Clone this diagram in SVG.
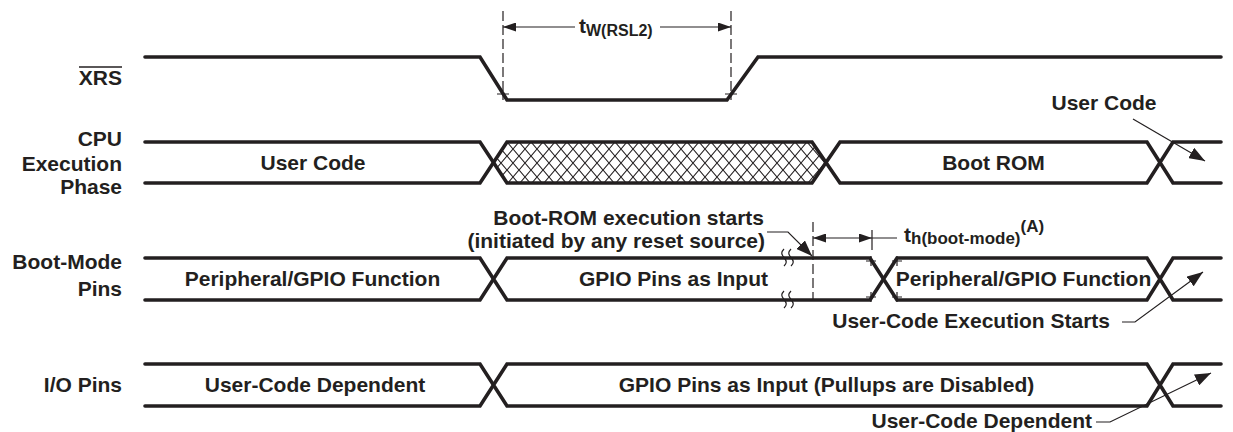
<svg xmlns="http://www.w3.org/2000/svg" width="1233" height="432" viewBox="0 0 1233 432">
<defs>
<style>
.t{font-family:"Liberation Sans",Arial,Helvetica,sans-serif;font-weight:bold;font-size:21px;fill:#231f20}
.m{text-anchor:middle}
.e{text-anchor:end}
.sig{fill:none;stroke:#231f20;stroke-width:3.6;stroke-linejoin:miter;stroke-linecap:round}
.bus{fill:#fff;stroke:#231f20;stroke-width:3.6;stroke-linejoin:miter}
.thin{fill:none;stroke:#231f20;stroke-width:1.2}
.dash{fill:none;stroke:#231f20;stroke-width:1.2;stroke-dasharray:10 4}
.lead{fill:none;stroke:#231f20;stroke-width:1.2;marker-end:url(#ah)}
</style>
<pattern id="hatch" patternUnits="userSpaceOnUse" x="507" y="142" width="12" height="14">
<path d="M-1,-1.17 L13,15.17 M13,-1.17 L-1,15.17" stroke="#231f20" stroke-width="1.1" fill="none"/>
</pattern>
<marker id="ah" viewBox="0 0 16 12" refX="16" refY="6" markerWidth="16" markerHeight="12" markerUnits="userSpaceOnUse" orient="auto-start-reverse">
<path d="M0,0 L16,6 L0,12 z" fill="#231f20"/>
</marker>
<marker id="dh" viewBox="0 0 13 9" refX="13" refY="4.5" markerWidth="13" markerHeight="9" markerUnits="userSpaceOnUse" orient="auto-start-reverse">
<path d="M0,0 L13,4.5 L0,9 z" fill="#231f20"/>
</marker>
</defs>
<rect width="1233" height="432" fill="#fff"/>

<g id="labels">
<text class="t e" x="122" y="85">XRS</text>
<line x1="79" y1="67" x2="122" y2="67" stroke="#231f20" stroke-width="1.5"/>
<text class="t e" x="122" y="146">CPU</text>
<text class="t e" x="122" y="171">Execution</text>
<text class="t e" x="122" y="194">Phase</text>
<text class="t e" x="122" y="269">Boot-Mode</text>
<text class="t e" x="122" y="296">Pins</text>
<text class="t e" x="122" y="392">I/O Pins</text>
</g>

<g id="xrs">
<path class="sig" d="M145,57 H480 L507,100 H727 L758,57 H1221"/>
</g>

<g id="cpu">
<path class="sig" d="M145,142 H480 L493.5,162.5 L480,183 H145"/>
<polygon class="bus" points="493.5,162.5 507,142 812,142 826,162.5 812,183 507,183" style="fill:url(#hatch)"/>
<polygon class="bus" points="826,162.5 840,142 1147,142 1160,162.5 1147,183 840,183"/>
<path class="sig" d="M1221,142 H1173 L1160,162.5 L1173,183 H1221"/>
<text class="t m" x="313" y="170">User Code</text>
<text class="t m" x="993.5" y="170">Boot ROM</text>
</g>

<g id="bootmode">
<path class="sig" d="M145,258 H480 L493.5,279 L480,300 H145"/>
<polygon class="bus" points="493.5,279 507,258 870,258 883.5,279 870,300 507,300"/>
<polygon class="bus" points="883.5,279 897,258 1147,258 1160,279 1147,300 897,300"/>
<path class="sig" d="M1221,258 H1173 L1160,279 L1173,300 H1221"/>
<path class="thin" d="M784,249 c-3,3 -3,5 0,8.5 c3,3.5 3,5.5 0,8.5 M791,249 c-3,3 -3,5 0,8.5 c3,3.5 3,5.5 0,8.5"/>
<path class="thin" d="M784,291 c-3,3 -3,5 0,8.5 c3,3.5 3,5.5 0,8.5 M791,291 c-3,3 -3,5 0,8.5 c3,3.5 3,5.5 0,8.5"/>
<path class="thin" d="M866,261 h10 M871,256 v10 M892,261 h10 M897,256 v10 M866,297 h10 M871,292 v10 M892,297 h10 M897,292 v10"/>
<text class="t m" x="312.5" y="286">Peripheral/GPIO Function</text>
<text class="t m" x="673.5" y="286">GPIO Pins as Input</text>
<text class="t m" x="1023.5" y="286">Peripheral/GPIO Function</text>
</g>

<g id="io">
<path class="sig" d="M145,364 H480 L493.5,385 L480,406 H145"/>
<polygon class="bus" points="493.5,385 507,364 1147,364 1160,385 1147,406 507,406"/>
<path class="sig" d="M1221,364 H1173 L1160,385 L1173,406 H1221"/>
<text class="t m" x="315" y="392">User-Code Dependent</text>
<text class="t m" x="826.5" y="392">GPIO Pins as Input (Pullups are Disabled)</text>
</g>

<g id="connectors">
<line class="dash" x1="503" y1="11" x2="503" y2="100"/>
<line class="dash" x1="731" y1="11" x2="731" y2="100"/>
<path class="thin" d="M497,94 h12 M725,94 h12"/>
<line class="thin" x1="575" y1="27" x2="503" y2="27" style="marker-end:url(#dh)"/>
<line class="thin" x1="660" y1="27" x2="731" y2="27" style="marker-end:url(#dh)"/>
<text class="t" x="579" y="33">t<tspan font-size="16" dy="3">W(RSL2)</tspan></text>

<line class="dash" x1="813" y1="222" x2="813" y2="300"/>
<line class="thin" x1="813" y1="238" x2="872" y2="238" style="marker-start:url(#dh);marker-end:url(#dh)"/>
<path class="thin" d="M872,230 V250 M872,238 H897"/>
<text class="t" x="904" y="242">t<tspan font-size="17" dy="2">h(boot-mode)</tspan><tspan font-size="17" dy="-12">(A)</tspan></text>

<text class="t e" x="764" y="225">Boot-ROM execution starts</text>
<text class="t e" x="765" y="248">(initiated by any reset source)</text>
<path class="lead" d="M767,232 H788 L812,256"/>

<text class="t m" x="1104" y="110">User Code</text>
<path class="lead" d="M1133,119 L1205,161"/>

<text class="t e" x="1110" y="328">User-Code Execution Starts</text>
<path class="lead" d="M1122,322 H1135 L1203,272"/>

<text class="t e" x="1092" y="428">User-Code Dependent</text>
<path class="lead" d="M1096,422 H1110 L1211,373"/>
</g>
</svg>
